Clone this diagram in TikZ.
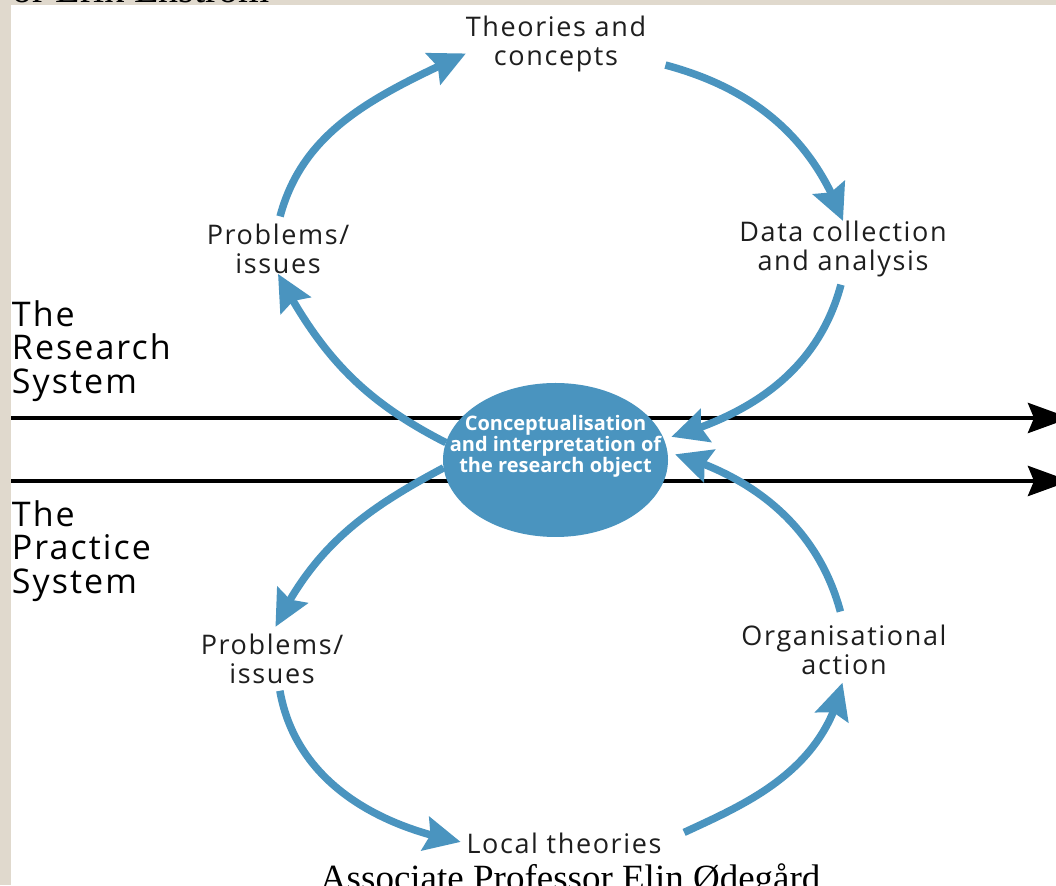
\documentclass[tikz,border=0pt]{standalone}
\usepackage{fontspec}
\setmainfont{Liberation Serif}
\newfontfamily\labelfont[LetterSpace=6]{Open Sans}
\newfontfamily\centrefont{Open Sans}
\usetikzlibrary{arrows.meta,bending,shapes.geometric}

\definecolor{cyclecol}{RGB}{74,148,191}
\definecolor{framecol}{RGB}{224,217,205}
\definecolor{labelcol}{RGB}{30,30,30}

\begin{document}
\begin{tikzpicture}[x=1pt, y=1pt, line join=miter,
    every node/.style={inner sep=0pt, outer sep=0pt},
    phase/.style={font=\labelfont\fontsize{27}{29}\selectfont, text=labelcol, align=center},
    sysname/.style={font=\labelfont\fontsize{34}{33.5}\selectfont, text=black, align=left, anchor=west},
    loopline/.style={draw=cyclecol, line width=7.5pt, -{Stealth[length=36pt, width=34pt, inset=5pt]}},
    systemline/.style={draw=black, line width=4.5pt, -{Stealth[length=42pt, width=30pt, inset=6pt]}}]

    % page and frame
    \useasboundingbox (0,0) rectangle (1056,885);
    \fill[white] (0,0) rectangle (1056,885);
    \fill[framecol] (0,0) rectangle (11,885);
    \fill[framecol] (0,880) rectangle (1056,885);
    \node[font=\fontsize{40}{44}\selectfont, anchor=base east] (coauthor) at (270,882) {or Erik Enstr\"om};
    \node[font=\fontsize{37}{40}\selectfont, anchor=base west] (author) at (320,-5) {Associate Professor Elin \O deg\aa rd};

    % the two systems
    \coordinate (rs-start) at (11,467);
    \coordinate (rs-end) at (1070,467);
    \coordinate (ps-start) at (11,404);
    \coordinate (ps-end) at (1070,404);
    \draw[systemline] (rs-start) -- (rs-end);
    \draw[systemline] (ps-start) -- (ps-end);
    \node[sysname] (research) at (12,534) {The\\Research\\System};
    \node[sysname] (practice) at (12,334) {The\\Practice\\System};

    % centre
    \node[ellipse, fill=cyclecol, minimum width=225pt, minimum height=154pt] (concept) at (555.5,425) {};
    \node[font=\centrefont\bfseries\fontsize{20}{19}\selectfont, text=white, align=center] (concept-text) at (555.5,439) {Conceptualisation\\and interpretation of\\the research object};

    % labels
    \node[phase] (theo) at (556,841) {Theories and\\concepts};
    \node[phase] (dca) at (843,636) {Data collection\\and analysis};
    \node[phase] (prob1) at (278,636) {Problems/\\issues};
    \node[phase] (prob2) at (272,226) {Problems/\\issues};
    \node[phase] (org) at (844,235) {Organisational\\action};
    \node[phase] (local) at (564,42) {Local theories};

    % research cycle
    \draw[loopline, shorten <=8pt] (prob1.north) to[out=75, in=205] (theo.186);
    \draw[loopline, shorten <=20pt] (theo.350) to[out=-15, in=110] (dca.north);
    \draw[loopline, shorten <=8pt, shorten >=8pt] (dca.south) to[out=-105, in=15] (concept.11);
    \draw[loopline] (concept.171) to[out=153, in=-62] (prob1.south);

    % practice cycle
    \draw[loopline, shorten >=8pt] (concept.184) to[out=208, in=65] (prob2.north);
    \draw[loopline, shorten <=7pt, shorten >=6pt] (prob2.-75) to[out=-80, in=170] (local.west);
    \draw[loopline, shorten <=25pt, shorten >=8pt] (local.east) to[out=25, in=-100] (org.south);
    \draw[loopline, shorten <=14pt, shorten >=8pt] (org.north) to[out=105, in=-15] (concept.4);
\end{tikzpicture}
\end{document}
